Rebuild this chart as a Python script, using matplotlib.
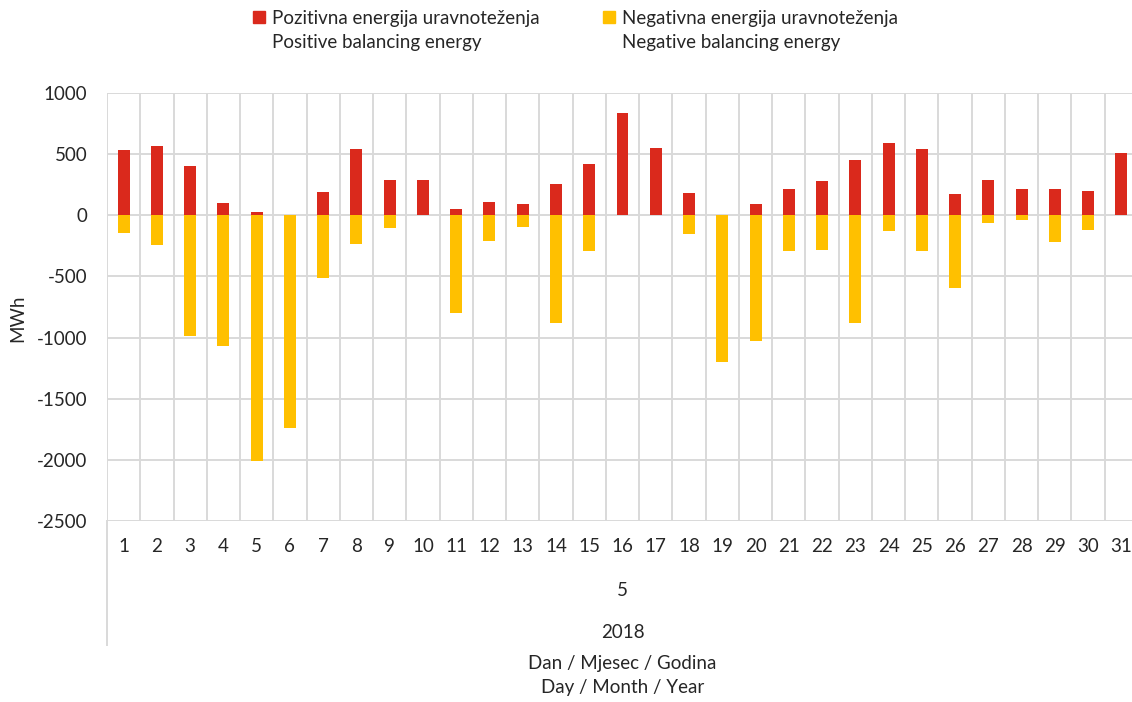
import matplotlib.pyplot as plt
import matplotlib.transforms as mtransforms
from matplotlib.patches import Patch
from matplotlib.lines import Line2D

plt.rcParams['font.family'] = ['Lato', 'DejaVu Sans']

DAYS = list(range(1, 32))
# daily balancing energy, May 2018 (MWh)
POSITIVE = [532, 565, 407, 101, 27, 0, 188, 543, 292, 289, 49, 112, 90, 259, 418, 838,
            554, 186, 0, 90, 218, 281, 450, 595, 543, 172, 289, 218, 218, 196, 510]
NEGATIVE = [-142, -246, -984, -1068, -2008, -1741, -514, -235, -106, 0, -795, -211, -98,
            -879, -295, 0, 0, -149, -1203, -1024, -295, -285, -877, -127, -295, -595,
            -65, -35, -222, -117, 0]
Y_TICKS = [-2500, -2000, -1500, -1000, -500, 0, 500, 1000]
MONTH = "5"
YEAR = "2018"
LABEL_POS = "Pozitivna energija uravnoteženja"
LABEL_POS_EN = "Positive balancing energy"
LABEL_NEG = "Negativna energija uravnoteženja"
LABEL_NEG_EN = "Negative balancing energy"

RED = "#DA291C"
YELLOW = "#FFC000"
GRID = "#D9D9D9"
TEXT = "#262626"
FS = 13.5

fig = plt.figure(figsize=(11.32, 7.02), dpi=100)
# plot area runs a little past the right edge, as in the reference
ax = fig.add_axes([107/1132, 1-521/702, 1031/1132, 428/702])

ax.bar(DAYS, POSITIVE, width=0.36, color=RED, zorder=3)
ax.bar(DAYS, NEGATIVE, width=0.36, color=YELLOW, zorder=3)

ax.set_xlim(0.5, 31.5)
ax.set_ylim(-2500, 1000)
ax.set_yticks(Y_TICKS)
ax.set_yticklabels([str(v) for v in Y_TICKS])
ax.set_xticks(DAYS)
ax.set_xticklabels([str(d) for d in DAYS])
ax.set_xticks([d + 0.5 for d in range(0, 32)], minor=True)
ax.tick_params(axis='both', which='both', length=0, labelsize=FS, colors=TEXT)
ax.tick_params(axis='y', pad=14)
ax.tick_params(axis='x', pad=12)
ax.grid(axis='y', which='major', color=GRID, lw=1.4, zorder=0)
ax.grid(axis='x', which='minor', color=GRID, lw=1.4, zorder=0)
for s in ax.spines.values():
    s.set_visible(False)

fig.text(18/1132, 1-318/702, "MWh", rotation=90, ha='center', va='center',
         fontsize=FS, color=TEXT)

# multi level category labels under the axis
tr = mtransforms.blended_transform_factory(ax.transAxes, fig.transFigure)
ax.add_line(Line2D([0, 0], [1-521/702, 1-645/702], transform=tr, color=GRID,
                   lw=1.4, clip_on=False))
ax.text(0.5, 1-591/702, MONTH, transform=tr, ha='center', va='center', fontsize=FS, color=TEXT)
ax.text(0.5, 1-633/702, YEAR, transform=tr, ha='center', va='center', fontsize=FS, color=TEXT)
ax.text(0.5, 1-664/702, "Dan / Mjesec / Godina", transform=tr, ha='center', va='center',
        fontsize=FS, color=TEXT)
ax.text(0.5, 1-688/702, "Day / Month / Year", transform=tr, ha='center', va='center',
        fontsize=FS, color=TEXT)

handles = [Patch(color=RED), Patch(visible=False),
           Patch(color=YELLOW), Patch(visible=False)]
labels = [LABEL_POS, LABEL_POS_EN, LABEL_NEG, LABEL_NEG_EN]
leg = fig.legend(handles, labels, ncol=2, loc='upper left',
                 bbox_to_anchor=(240/1132, 1.005), frameon=False, fontsize=FS,
                 handlelength=0.65, handleheight=0.65, handletextpad=0.35,
                 labelspacing=0.42, columnspacing=3.4, borderpad=0.2)
for t in leg.get_texts():
    t.set_color(TEXT)

fig.savefig("out.png", dpi=100)
